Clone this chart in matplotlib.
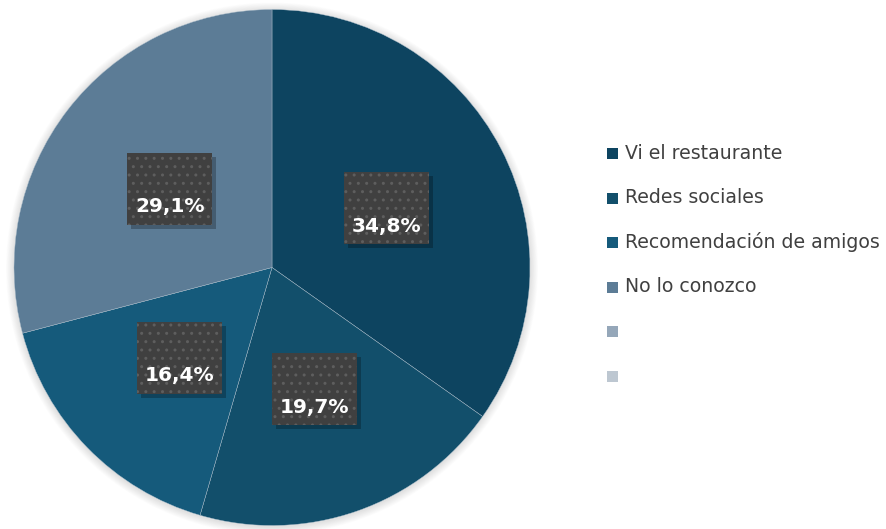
import numpy as np
import matplotlib.pyplot as plt
from matplotlib.patches import Rectangle, Circle

categorias = ["Vi el restaurante", "Redes sociales", "Recomendación de amigos",
              "No lo conozco", "", ""]
valores = [34.8, 19.7, 16.4, 29.1, 0, 0]
colores = ["#0d4460", "#124f6b", "#155a7b", "#5c7c96", "#95a7b9", "#bdc7d1"]

W, H = 887, 529
fig = plt.figure(figsize=(W / 100, H / 100), dpi=100)
ax = fig.add_axes([0, 0, 1, 1])
plt.rcParams["hatch.linewidth"] = 1.0

cx, cy, R = 272, H - 267.5, 258

# sombra suave alrededor del pastel
for i in range(10, 0, -1):
    ax.add_patch(Circle((cx, cy - 1), R + i * 0.8, color="black", alpha=0.012, lw=0, zorder=0))

n = [v for v in valores if v > 0]
wedges, _ = ax.pie(n, colors=colores[:len(n)], startangle=90, counterclock=False,
                   center=(cx, cy), radius=R, frame=True,
                   wedgeprops=dict(edgecolor="#aebfcc", linewidth=0.3))
ax.set_xlim(0, W)
ax.set_ylim(0, H)
ax.axis("off")

# etiquetas de porcentaje en cajas oscuras
bw, bh = 85, 72
for w, v in zip(wedges, n):
    ang = np.deg2rad((w.theta1 + w.theta2) / 2)
    x = cx + 0.5 * R * np.cos(ang)
    y = cy + 0.5 * R * np.sin(ang)
    ax.add_patch(Rectangle((x - bw / 2 + 4, y - bh / 2 - 4), bw, bh,
                           facecolor="black", alpha=0.25, lw=0, zorder=3))
    ax.add_patch(Rectangle((x - bw / 2, y - bh / 2), bw, bh, facecolor="#404040",
                           edgecolor="#5e5e5e", hatch="..", lw=0, zorder=4))
    ax.text(x, y - 18, f"{v:.1f}%".replace(".", ","), color="white",
            fontsize=14.5, fontweight="bold", ha="center", va="center", zorder=5)

# leyenda
y0, paso = H - 153, 44.6
for i, (cat, col) in enumerate(zip(categorias, colores)):
    y = y0 - i * paso
    ax.add_patch(Rectangle((607, y - 6), 11, 11, facecolor=col, lw=0))
    ax.text(625, y, cat, color="#404040", fontsize=13.6, ha="left", va="center")

fig.savefig("out.png", dpi=100)
